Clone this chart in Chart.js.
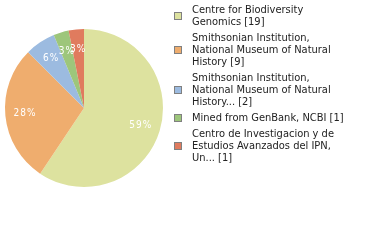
<!DOCTYPE html>
<html>
<head>
<meta charset="utf-8">
<script src="https://cdn.jsdelivr.net/npm/chart.js@4.4.1/dist/chart.umd.min.js"></script>
<style>
  html, body { margin: 0; padding: 0; background: #ffffff; }
  #wrap { position: relative; width: 380px; height: 240px; overflow: hidden; }
  #c { position: absolute; left: 0; top: 0; }
  #legend { position: absolute; left: 174px; top: 4px; width: 206px;
            font-family: "DejaVu Sans Condensed", "DejaVu Sans", sans-serif; font-size: 11px;
            line-height: 12px; color: #222; }
  .item { position: relative; padding-left: 18px; margin-bottom: 4px; }
  .sw { position: absolute; left: 0; top: 50%; width: 6px; height: 6px;
        margin-top: -4px; border: 1px solid #808080; }
</style>
</head>
<body>
<div id="wrap">
  <canvas id="c" width="380" height="240"></canvas>
  <div id="legend"></div>
</div>
<script>
// Data
const categories = [
  ["Centre for Biodiversity", "Genomics [19]"],
  ["Smithsonian Institution,", "National Museum of Natural", "History [9]"],
  ["Smithsonian Institution,", "National Museum of Natural", "History... [2]"],
  ["Mined from GenBank, NCBI [1]"],
  ["Centro de Investigacion y de", "Estudios Avanzados del IPN,", "Un... [1]"]
];
const values = [19, 9, 2, 1, 1];
const colors = ["#dde29f", "#efad6e", "#9cbbe0", "#9dc67b", "#e07b5e"];

// Legend (HTML, real text)
const legend = document.getElementById('legend');
categories.forEach((lines, i) => {
  const item = document.createElement('div');
  item.className = 'item';
  const sw = document.createElement('span');
  sw.className = 'sw';
  sw.style.background = colors[i];
  item.appendChild(sw);
  const txt = document.createElement('div');
  txt.innerHTML = lines.map(l => l.replace(/&/g,'&amp;').replace(/</g,'&lt;')).join('<br>');
  item.appendChild(txt);
  legend.appendChild(item);
});

// Percentage labels plugin
const pctLabels = {
  id: 'pctLabels',
  afterDatasetsDraw(chart) {
    const ctx = chart.ctx;
    const meta = chart.getDatasetMeta(0);
    const total = values.reduce((a, b) => a + b, 0);
    ctx.save();
    ctx.font = '10px "DejaVu Sans Condensed", "DejaVu Sans", sans-serif';
    ctx.letterSpacing = '1px';
    ctx.fillStyle = '#ffffff';
    ctx.textAlign = 'center';
    ctx.textBaseline = 'middle';
    meta.data.forEach((arc, i) => {
      const p = arc.getProps(['startAngle', 'endAngle', 'outerRadius', 'x', 'y'], true);
      const mid = (p.startAngle + p.endAngle) / 2;
      const r = p.outerRadius * 0.75;
      const pct = Math.round(values[i] / total * 100) + '%';
      ctx.fillText(pct, p.x + Math.cos(mid) * r, p.y + Math.sin(mid) * r);
    });
    ctx.restore();
  }
};

new Chart(document.getElementById('c'), {
  type: 'pie',
  data: {
    labels: categories.map(l => l.join(' ')),
    datasets: [{
      data: values,
      backgroundColor: colors,
      borderWidth: 0
    }]
  },
  options: {
    responsive: false,
    animation: false,
    layout: { padding: { left: 5, right: 217, top: 29, bottom: 53 } },
    plugins: {
      legend: { display: false },
      tooltip: { enabled: false }
    }
  },
  plugins: [pctLabels]
});
</script>
</body>
</html>
